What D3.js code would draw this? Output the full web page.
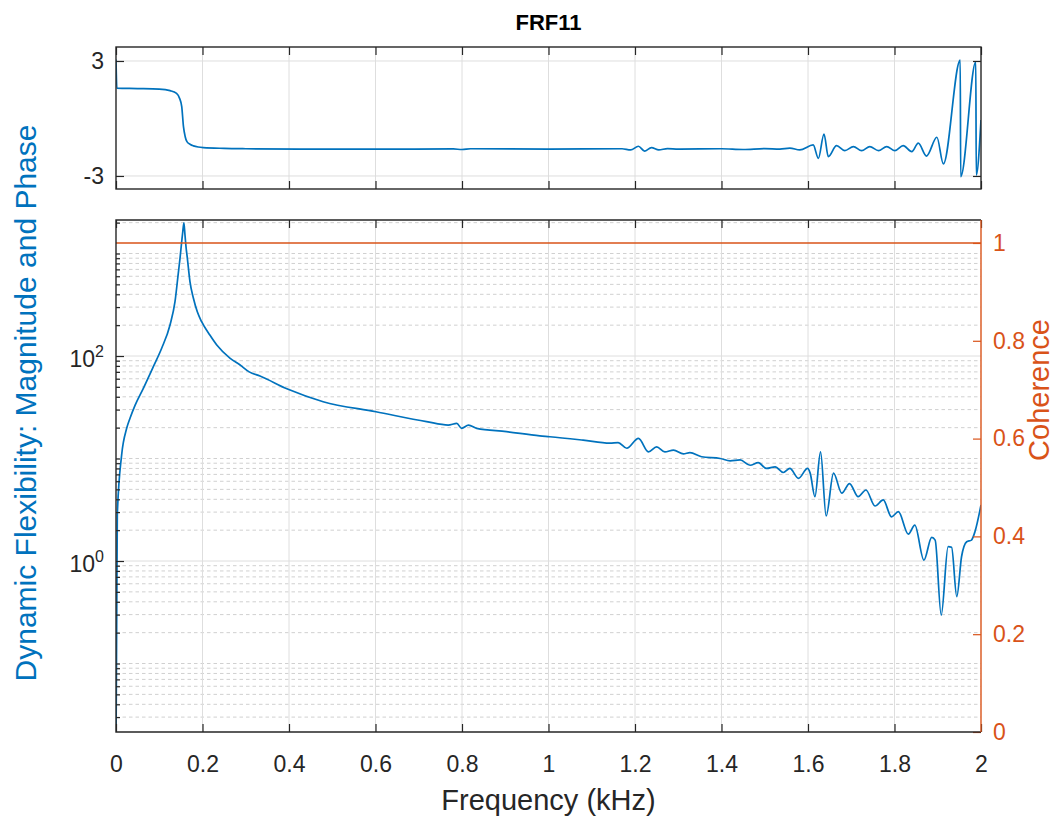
<!DOCTYPE html>
<html><head><meta charset="utf-8">
<script src="https://cdn.jsdelivr.net/npm/d3@7"></script>
<style>body{margin:0;background:#fff} svg{display:block} text{font-family:"Liberation Sans",Arial,Helvetica,sans-serif}</style>
</head><body><svg id="c" width="1057" height="818"></svg>
<script>
// ---- data ----
const titleText = "FRF11";
const xLabelText = "Frequency (kHz)";
const yLabelText = "Dynamic Flexibility: Magnitude and Phase";
const y2LabelText = "Coherence";

const xTicks = [0, 0.2, 0.4, 0.6, 0.8, 1, 1.2, 1.4, 1.6, 1.8, 2];
const phaseTicks = [-3, 3];
const magMajorTicks = [1, 100];
const cohTicks = [0, 0.2, 0.4, 0.6, 0.8, 1];

const magFreq = [0, 0.003, 0.013, 0.0247, 0.0324, 0.044, 0.0632, 0.0863, 0.1056, 0.1249, 0.1364, 0.144, 0.148, 0.1519, 0.1545, 0.157, 0.1595, 0.162, 0.165, 0.171, 0.179, 0.188, 0.198, 0.217, 0.233, 0.264, 0.287, 0.308, 0.333, 0.398, 0.479, 0.601, 0.718, 0.768, 0.788, 0.799, 0.815, 0.834, 0.903, 0.98, 1.003, 1.08, 1.142, 1.161, 1.181, 1.208, 1.231, 1.25, 1.269, 1.289, 1.312, 1.327, 1.354, 1.397, 1.42, 1.443, 1.466, 1.485, 1.504, 1.524, 1.543, 1.558, 1.578, 1.599, 1.605, 1.616, 1.629, 1.642, 1.659, 1.678, 1.696, 1.716, 1.734, 1.755, 1.774, 1.793, 1.809, 1.832, 1.847, 1.868, 1.886, 1.894, 1.908, 1.924, 1.932, 1.944, 1.955, 1.967, 1.978, 1.986, 2.0];
const magValues = [0.015, 2.8, 10.8, 19.7, 24.7, 33, 48.4, 78.7, 119, 201, 339, 641, 898, 1304, 1650, 1990, 1515, 1150, 898, 531, 366, 270, 216, 160, 128, 95, 81.7, 70, 63.8, 47.3, 35.8, 28.6, 22.9, 21.2, 22, 19.7, 21.2, 19.7, 18.3, 16.6, 16.3, 15.1, 14.1, 14.3, 12.6, 15.7, 11.6, 13.0, 11.6, 12.1, 11.1, 11.4, 10.4, 10.0, 9.5, 9.7, 8.6, 9.1, 8.0, 8.3, 7.3, 8.0, 6.4, 8.0, 7.2, 4.24, 11.6, 2.75, 7.2, 4.6, 5.7, 4.24, 4.93, 3.44, 3.94, 2.7, 3.03, 1.83, 2.24, 1.02, 1.70, 1.60, 0.297, 1.38, 1.36, 0.449, 1.10, 1.54, 1.60, 1.93, 3.52];

const phaseFreq = [0, 0.002, 0.05, 0.1, 0.125, 0.14, 0.147, 0.152, 0.156, 0.16, 0.164, 0.172, 0.179, 0.19, 0.202, 0.25, 0.3, 0.425, 0.6, 0.78, 0.8, 0.82, 1.0, 1.17, 1.19, 1.208, 1.222, 1.238, 1.255, 1.275, 1.3, 1.4, 1.45, 1.5, 1.535, 1.558, 1.581, 1.612, 1.624, 1.637, 1.647, 1.666, 1.685, 1.705, 1.724, 1.743, 1.763, 1.782, 1.801, 1.82, 1.84, 1.855, 1.874, 1.898, 1.913, 1.952, 1.953, 1.988, 1.989, 2.0];
const phaseValues = [3.08, 1.58, 1.56, 1.53, 1.45, 1.31, 1.05, 0.62, -0.43, -0.95, -1.21, -1.36, -1.43, -1.49, -1.52, -1.56, -1.58, -1.6, -1.6, -1.59, -1.62, -1.58, -1.6, -1.58, -1.64, -1.45, -1.7, -1.52, -1.64, -1.57, -1.6, -1.58, -1.62, -1.57, -1.6, -1.55, -1.64, -1.38, -2.08, -0.81, -1.99, -1.42, -1.68, -1.47, -1.68, -1.47, -1.68, -1.47, -1.68, -1.42, -1.73, -1.29, -1.96, -0.98, -2.37, 3.05, -3.04, 2.96, -2.95, -0.08];

const cohFreq = [0, 0.5, 1, 1.5, 2];
const cohValues = [1, 1, 1, 1, 1];

// ---- layout ----
const blue = "#0072BD", orange = "#D95319", axisCol = "#262626";
const L = 116, R = 981;
const top1 = 47, bot1 = 189, top2 = 220, bot2 = 732;
const tickFont = 23, labelFont = 30;

const svg = d3.select("#c");
const x = d3.scaleLinear().domain([0, 2]).range([L, R]);
const yP = d3.scaleLinear().domain([-3.68, 3.73]).range([bot1, top1]);
const yM = d3.scaleLog().domain([0.02147, 2123]).range([bot2, top2]);
const yC = d3.scaleLinear().domain([0, 1.047]).range([bot2, top2]);

const defs = svg.append("defs");
defs.append("clipPath").attr("id", "clip1").append("rect").attr("x", L).attr("y", top1).attr("width", R - L).attr("height", bot1 - top1);
defs.append("clipPath").attr("id", "clip2").append("rect").attr("x", L).attr("y", top2).attr("width", R - L).attr("height", bot2 - top2);

// minor log ticks
const minorVals = [];
for (let e = -2; e <= 3; e++) for (let k = 1; k <= 9; k++) {
  const v = +(k * Math.pow(10, e)).toPrecision(6);
  if (v >= 0.0215 && v <= 2123 && !magMajorTicks.includes(v)) minorVals.push(v);
}

// ---- grids ----
const g1 = svg.append("g");
g1.selectAll("line.vx").data(xTicks.slice(1, -1)).join("line")
  .attr("x1", d => x(d)).attr("x2", d => x(d)).attr("y1", top1).attr("y2", bot1)
  .attr("stroke", "#dedede").attr("stroke-width", 1);
g1.selectAll("line.hy").data(phaseTicks).join("line")
  .attr("x1", L).attr("x2", R).attr("y1", d => yP(d)).attr("y2", d => yP(d))
  .attr("stroke", "#dedede").attr("stroke-width", 1);

const g2 = svg.append("g");
g2.selectAll("line.mn").data(minorVals).join("line")
  .attr("x1", L).attr("x2", R).attr("y1", d => yM(d)).attr("y2", d => yM(d))
  .attr("stroke", "#d0d0d0").attr("stroke-width", 1).attr("stroke-dasharray", "3.5,3");
g2.selectAll("line.vx").data(xTicks.slice(1, -1)).join("line")
  .attr("x1", d => x(d)).attr("x2", d => x(d)).attr("y1", top2).attr("y2", bot2)
  .attr("stroke", "#dedede").attr("stroke-width", 1);
g2.selectAll("line.mj").data(magMajorTicks).join("line")
  .attr("x1", L).attr("x2", R).attr("y1", d => yM(d)).attr("y2", d => yM(d))
  .attr("stroke", "#dedede").attr("stroke-width", 1);

// ---- data lines ----
const phasePts = phaseFreq.map((f, i) => [f, phaseValues[i]]);
const magPts = magFreq.map((f, i) => [f, magValues[i]]);
const cohPts = cohFreq.map((f, i) => [f, cohValues[i]]);

svg.append("path").datum(phasePts).attr("clip-path", "url(#clip1)")
  .attr("fill", "none").attr("stroke", blue).attr("stroke-width", 1.7).attr("stroke-linejoin", "round")
  .attr("d", d3.line().curve(d3.curveMonotoneX).x(d => x(d[0])).y(d => yP(d[1])));
svg.append("path").datum(magPts).attr("clip-path", "url(#clip2)")
  .attr("fill", "none").attr("stroke", blue).attr("stroke-width", 1.7).attr("stroke-linejoin", "round")
  .attr("d", d3.line().curve(d3.curveMonotoneX).x(d => x(d[0])).y(d => yM(d[1])));
svg.append("path").datum(cohPts).attr("clip-path", "url(#clip2)")
  .attr("fill", "none").attr("stroke", orange).attr("stroke-width", 1.7)
  .attr("d", d3.line().x(d => x(d[0])).y(d => yC(d[1])));

// ---- axes ----
function styleAxis(g, col) {
  g.select(".domain").remove();
  g.selectAll(".tick line").attr("stroke", col).attr("stroke-width", 1.2);
  g.selectAll(".tick text").attr("fill", col).style("font-size", tickFont + "px");
}
const fmt = d3.format("~g");
// top panel
svg.append("g").attr("transform", `translate(0,${bot1})`)
  .call(d3.axisBottom(x).tickValues(xTicks).tickSize(-8).tickFormat("")).call(g => styleAxis(g, axisCol));
svg.append("g").attr("transform", `translate(0,${top1})`)
  .call(d3.axisTop(x).tickValues(xTicks).tickSize(-8).tickFormat("")).call(g => styleAxis(g, axisCol));
svg.append("g").attr("transform", `translate(${L},0)`)
  .call(d3.axisLeft(yP).tickValues(phaseTicks).tickSize(-8).tickPadding(12).tickFormat(d => d < 0 ? "-" + Math.abs(d) : d))
  .call(g => styleAxis(g, axisCol));
svg.append("g").attr("transform", `translate(${R},0)`)
  .call(d3.axisRight(yP).tickValues(phaseTicks).tickSize(-8).tickFormat(""))
  .call(g => styleAxis(g, axisCol));

// bottom panel
svg.append("g").attr("transform", `translate(0,${bot2})`)
  .call(d3.axisBottom(x).tickValues(xTicks).tickSize(-8).tickPadding(24).tickFormat(fmt))
  .call(g => styleAxis(g, axisCol));
svg.append("g").attr("transform", `translate(0,${top2})`)
  .call(d3.axisTop(x).tickValues(xTicks).tickSize(-8).tickFormat(""))
  .call(g => styleAxis(g, axisCol));
svg.append("g").attr("transform", `translate(${L},0)`)
  .call(d3.axisLeft(yM).tickValues(minorVals).tickSize(-4).tickFormat(""))
  .call(g => styleAxis(g, axisCol));
const gMaj = svg.append("g").attr("transform", `translate(${L},0)`)
  .call(d3.axisLeft(yM).tickValues(magMajorTicks).tickSize(-8).tickPadding(12).tickFormat(""))
  .call(g => styleAxis(g, axisCol));
gMaj.selectAll(".tick").each(function (d) {
  const t = d3.select(this).append("text").attr("x", -12).attr("y", 10)
    .attr("text-anchor", "end").attr("fill", axisCol).style("font-size", tickFont + "px");
  t.append("tspan").text("10");
  t.append("tspan").attr("dy", -10).style("font-size", "16px").text(Math.round(Math.log10(d)));
});
svg.append("g").attr("transform", `translate(${R},0)`)
  .call(d3.axisRight(yC).tickValues(cohTicks).tickSize(-8).tickPadding(12).tickFormat(fmt))
  .call(g => styleAxis(g, orange));

// frames
svg.append("rect").attr("x", L).attr("y", top1).attr("width", R - L).attr("height", bot1 - top1)
  .attr("fill", "none").attr("stroke", axisCol).attr("stroke-width", 1.4);
svg.append("path").attr("d", `M${R},${top2}H${L}V${bot2}H${R}`)
  .attr("fill", "none").attr("stroke", axisCol).attr("stroke-width", 1.4);
svg.append("line").attr("x1", R).attr("x2", R).attr("y1", top2).attr("y2", bot2)
  .attr("stroke", orange).attr("stroke-width", 1.4);

// ---- texts ----
svg.append("text").attr("x", (L + R) / 2).attr("y", 30).attr("text-anchor", "middle")
  .attr("fill", "#000").style("font-size", "22px").style("font-weight", "bold").text(titleText);
svg.append("text").attr("x", (L + R) / 2).attr("y", 810).attr("text-anchor", "middle")
  .attr("fill", axisCol).style("font-size", "29px").text(xLabelText);
svg.append("text").attr("transform", `translate(36,403) rotate(-90)`).attr("text-anchor", "middle")
  .attr("fill", blue).style("font-size", labelFont + "px").text(yLabelText);
svg.append("text").attr("transform", `translate(1049,390) rotate(-90)`).attr("text-anchor", "middle")
  .attr("fill", orange).style("font-size", "29px").text(y2LabelText);
</script></body></html>
